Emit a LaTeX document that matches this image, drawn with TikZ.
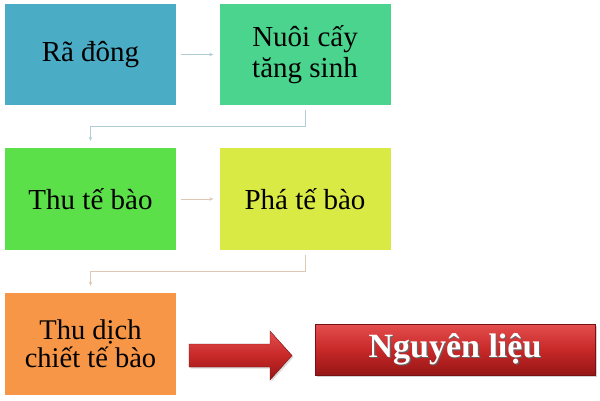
\documentclass[tikz,border=0pt]{standalone}
\usepackage{fontspec}
\setmainfont{Liberation Serif}
\usetikzlibrary{calc,arrows.meta,shadows}
\definecolor{cblue}{RGB}{75,172,198}
\definecolor{cgreenA}{RGB}{74,212,142}
\definecolor{cgreenB}{RGB}{92,224,74}
\definecolor{cyellow}{RGB}{218,234,68}
\definecolor{corange}{RGB}{247,150,70}
\definecolor{connA}{RGB}{178,204,214}
\definecolor{connB}{RGB}{222,200,180}
\definecolor{redtop}{RGB}{228,78,78}
\definecolor{redmid}{RGB}{200,40,40}
\definecolor{redbot}{RGB}{150,22,22}
\tikzset{
  stepbox/.style={rectangle, minimum width=171pt, minimum height=101pt, inner sep=0pt,
    align=center, font=\fontsize{29}{31}\selectfont, text=black},
  conn/.style={line width=0.7pt, -{Stealth[length=4pt,width=3.5pt]}, shorten <=5pt, shorten >=6pt},
  resultbox/.style={rectangle, minimum width=280pt, minimum height=51pt, inner sep=0pt,
    top color=redtop, bottom color=redbot, middle color=redmid, draw=redbot!80!black, line width=0.4pt,
    drop shadow={shadow xshift=1.5pt, shadow yshift=-1.5pt, opacity=0.35},
    font=\fontsize{34}{36}\selectfont\bfseries, text=white}
}
\begin{document}
\begin{tikzpicture}[x=1pt,y=-1pt]
\useasboundingbox (0,0) rectangle (600,400);
\fill[white] (0,0) rectangle (600,400);
\node[stepbox, fill=cblue] (b1) at (90.5,54.5) {Rã đông};
\node[stepbox, fill=cgreenA] (b2) at (305,54.5) {Nuôi cấy\\tăng sinh};
\node[stepbox, fill=cgreenB, minimum height=102pt] (b3) at (90.5,199) {Thu tế bào};
\node[stepbox, fill=cyellow, minimum height=102pt] (b4) at (305,199) {Phá tế bào};
\node[stepbox, fill=corange, minimum height=102pt, font=\fontsize{28.5}{28}\selectfont] (b5) at (90.5,344) {Thu dịch\\chiết tế bào};
\node[resultbox] (res) at (455,349.5) {\textcolor{black!60}{\makebox[0pt][l]{\hspace{1.2pt}\raisebox{-1.2pt}{Nguyên liệu}}}Nguyên liệu};
\draw[conn, draw=connA] (b1.east) -- (b2.west);
\draw[conn, draw=connA, shorten >=7pt] (b2.south) |- ($(b2.south)!0.5!(b3.north)$) -| (b3.north);
\draw[conn, draw=connB] (b3.east) -- (b4.west);
\draw[conn, draw=connB, shorten >=7pt] (b4.south) |- ($(b4.south)!0.5!(b5.north)$) -| (b5.north);
\path[top color=redtop, bottom color=redbot, middle color=redmid, draw=redbot!80!black, line width=0.4pt,
  drop shadow={shadow xshift=1.5pt, shadow yshift=-1.5pt, opacity=0.3}]
  (189,344) -- (270,344) -- (270,331) -- (292,355.5) -- (270,380) -- (270,367) -- (189,367) -- cycle;
\end{tikzpicture}
\end{document}
